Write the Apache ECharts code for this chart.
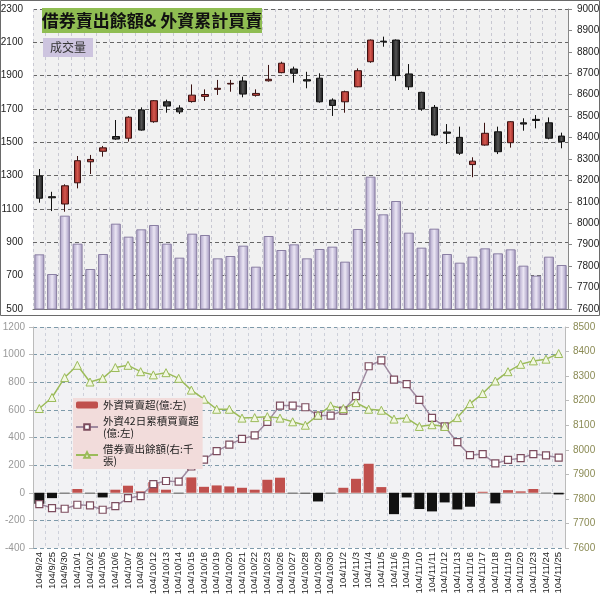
<!DOCTYPE html>
<html><head><meta charset="utf-8">
<script src="https://cdn.jsdelivr.net/npm/echarts@6/dist/echarts.min.js"></script>
<style>html,body{margin:0;padding:0;background:#fff}#c{width:600px;height:600px}</style>
</head><body><div id="c"></div>
<script>
const dates=['104/9/24','104/9/25','104/9/30','104/10/1','104/10/2','104/10/5','104/10/6','104/10/7','104/10/8','104/10/12','104/10/13','104/10/14','104/10/15','104/10/16','104/10/19','104/10/20','104/10/21','104/10/22','104/10/23','104/10/26','104/10/27','104/10/28','104/10/29','104/10/30','104/11/2','104/11/3','104/11/4','104/11/5','104/11/6','104/11/9','104/11/10','104/11/11','104/11/12','104/11/13','104/11/16','104/11/17','104/11/18','104/11/19','104/11/20','104/11/23','104/11/24','104/11/25'];
const volume=[828,710,1060,892,740,830,1012,934,978,1004,892,808,952,944,804,818,880,754,938,854,888,804,860,874,784,980,1294,1068,1148,958,868,982,830,778,814,864,834,858,760,700,814,764];
const opens =[8221,8124,8090,8189,8287,8336,8405,8397,8529,8474,8567,8538,8568,8592,8625,8650,8664,8597,8665,8703,8720,8670,8677,8575,8567,8637,8754,8850,8855,8697,8611,8541,8426,8401,8274,8365,8427,8376,8469,8485,8469,8407];
const closes=[8117,8119,8175,8292,8298,8352,8393,8495,8435,8572,8547,8520,8598,8601,8630,8653,8603,8606,8672,8747,8700,8664,8567,8550,8614,8712,8855,8847,8689,8637,8533,8412,8420,8327,8290,8420,8334,8474,8463,8480,8397,8381];
const lows  =[8096,8057,8054,8163,8230,8311,8389,8381,8432,8469,8516,8510,8563,8571,8599,8614,8588,8591,8661,8700,8656,8630,8563,8501,8516,8635,8749,8824,8665,8622,8525,8407,8370,8319,8215,8362,8323,8353,8432,8443,8392,8350];
const highs =[8253,8147,8182,8314,8319,8361,8482,8500,8541,8575,8577,8551,8648,8625,8669,8669,8684,8625,8739,8754,8731,8707,8700,8583,8619,8723,8858,8871,8858,8743,8614,8552,8463,8451,8308,8469,8451,8477,8490,8505,8494,8423];
const foreignNet=[-80,-39,-4,27,-4,-34,22,51,10,77,22,-4,111,43,53,46,36,22,94,109,-4,-5,-63,-4,36,101,210,41,-155,-34,-118,-135,-70,-121,-101,7,-77,19,10,27,-3,-12];
const cum42=[-82,-111,-116,-87,-92,-123,-97,-39,-24,63,85,80,190,240,301,349,390,415,513,631,631,619,559,559,595,699,916,959,819,786,672,542,480,366,272,280,212,238,250,280,270,254];
const lending=[8168,8213,8294,8344,8276,8291,8335,8344,8318,8305,8314,8291,8243,8206,8165,8165,8129,8131,8135,8129,8114,8100,8141,8179,8168,8192,8165,8161,8125,8129,8095,8102,8095,8131,8188,8229,8280,8318,8348,8362,8369,8392];
const titleText='借券賣出餘額& 外資累計買賣';
const volLabel='成交量';
const nameNet='外資買賣超(億:左)';
const nameCum='外資42日累積買賣超\n(億:左)';
const nameLend='借券賣出餘額(右:千\n張)';

const FONT='"Liberation Sans", Arial, sans-serif';
const CJK='"Noto Sans CJK TC", sans-serif';
const plain=v=>String(v);
const chart=echarts.init(document.getElementById('c'),null,{renderer:'canvas'});
const candleData=opens.map((o,i)=>[o,closes[i],lows[i],highs[i]]);
const netData=foreignNet.map(v=>({value:v,itemStyle:{color:v>=0?'#c0504d':'#111111'}}));
const hg=(a,b,c)=>({type:'linear',x:0,y:0,x2:1,y2:0,colorStops:[{offset:0,color:a},{offset:0.5,color:b},{offset:1,color:c}]});
const option={
  animation:false,
  backgroundColor:'#ffffff',
  grid:[
    {left:33,right:32,top:9,height:300,show:true,backgroundColor:'#f1f1f1',borderWidth:0,containLabel:false,outerBoundsMode:'none'},
    {left:33,right:35,top:327,height:221,show:true,backgroundColor:'#f2f2f4',borderWidth:0,containLabel:false,outerBoundsMode:'none'}
  ],
  xAxis:[
    {type:'category',gridIndex:0,data:dates,boundaryGap:true,
     axisLine:{lineStyle:{color:'#777'}},axisTick:{show:false},axisLabel:{show:false},
     splitLine:{show:true,interval:0,lineStyle:{color:'#c8c8d2',type:[3,3]}}},
    {type:'category',gridIndex:1,data:dates,boundaryGap:true,
     axisLine:{lineStyle:{color:'#bbbbbb'}},axisTick:{show:false},
     axisLabel:{rotate:90,interval:0,fontSize:9.5,color:'#222',margin:4,fontFamily:FONT},
     splitLine:{show:true,interval:0,lineStyle:{color:'#cdd0da',type:[3,3]}}}
  ],
  yAxis:[
    {gridIndex:0,type:'value',min:500,max:2300,interval:200,position:'left',
     axisLine:{show:false},axisTick:{show:false},
     axisLabel:{fontSize:10,color:'#222',margin:10,fontFamily:FONT,formatter:plain},
     splitLine:{show:true,lineStyle:{color:'#666',type:[4,3]}}},
    {gridIndex:0,type:'value',min:7600,max:9000,interval:100,position:'right',
     axisLine:{show:true,lineStyle:{color:'#888'}},axisTick:{show:true,length:4,lineStyle:{color:'#888'}},
     axisLabel:{fontSize:10,color:'#222',margin:9,fontFamily:FONT,formatter:plain},splitLine:{show:false}},
    {gridIndex:1,type:'value',min:-400,max:1200,interval:200,position:'left',
     axisLine:{show:true,lineStyle:{color:'#bbb'}},axisTick:{show:true,length:4,lineStyle:{color:'#bbb'}},
     axisLabel:{fontSize:10,color:'#999',margin:8,fontFamily:FONT,formatter:plain},
     splitLine:{show:true,lineStyle:{color:'#7e9aaa',type:[4,3]}}},
    {gridIndex:1,type:'value',min:7600,max:8500,interval:100,position:'right',
     axisLine:{show:true,lineStyle:{color:'#bbb'}},axisTick:{show:true,length:4,lineStyle:{color:'#bbb'}},
     axisLabel:{fontSize:10,color:'#8b8b55',margin:8,fontFamily:FONT,formatter:plain},splitLine:{show:false}}
  ],
  legend:{
    orient:'vertical',left:73,top:398,width:105,backgroundColor:'#f2dcdb',
    padding:[1,4,2,2],itemGap:4,itemWidth:22,itemHeight:7,
    textStyle:{fontSize:10.5,color:'#222',lineHeight:12,fontFamily:CJK},
    data:[nameNet,nameCum,nameLend]
  },
  series:[
    {type:'bar',name:'volume',xAxisIndex:0,yAxisIndex:0,data:volume,barWidth:10,
     itemStyle:{color:hg('#a99ec4','#ebe6f4','#a095bd'),borderColor:'#8a7fa3',borderWidth:1}},
    {type:'candlestick',name:'index',xAxisIndex:0,yAxisIndex:1,data:candleData,barWidth:7,
     itemStyle:{color:hg('#8e2222','#d4584e','#8e2222'),color0:hg('#0d0d0d','#555555','#0d0d0d'),
       borderColor:'#3a1212',borderColor0:'#111111',borderWidth:1}},
    {type:'bar',name:nameNet,xAxisIndex:1,yAxisIndex:2,data:netData,barWidth:10,
     itemStyle:{color:'#c0504d'}},
    {type:'line',name:nameCum,xAxisIndex:1,yAxisIndex:2,data:cum42,symbol:'rect',symbolSize:7,
     lineStyle:{color:'#9f8aa0',width:1.5},itemStyle:{color:'#ffffff',borderColor:'#7c4c5e',borderWidth:1.2}},
    {type:'line',name:nameLend,xAxisIndex:1,yAxisIndex:3,data:lending,symbol:'triangle',symbolSize:8,
     lineStyle:{color:'#9bbb59',width:1.5},itemStyle:{color:'#f2f7e2',borderColor:'#9bbb59',borderWidth:1}}
  ],
  graphic:[
    {type:'rect',shape:{x:0.5,y:0.5,width:599,height:315},style:{fill:'none',stroke:'#6a6a6a',lineWidth:1},z:100},
    {type:'rect',shape:{x:42,y:8,width:220,height:25},style:{fill:'#8fbd52'},z:100},
    {type:'text',x:152,y:20.5,style:{text:titleText,fill:'#111',font:'bold 17px "Noto Sans CJK TC", sans-serif',align:'center',verticalAlign:'middle'},z:101},
    {type:'rect',shape:{x:43,y:38,width:50,height:19},style:{fill:'#cdc4df'},z:100},
    {type:'text',x:68,y:47.5,style:{text:volLabel,fill:'#333',font:'12px "Noto Sans CJK TC", sans-serif',align:'center',verticalAlign:'middle'},z:101}
  ]
};
chart.setOption(option);
</script></body></html>
